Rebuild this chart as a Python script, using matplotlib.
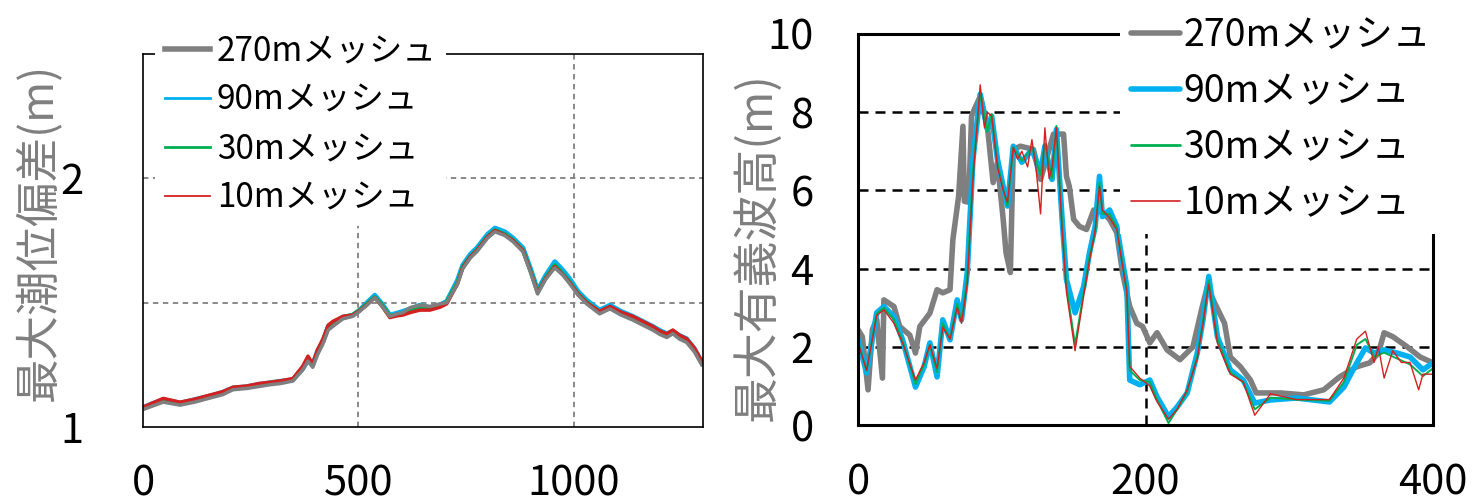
import matplotlib
matplotlib.use("Agg")
import matplotlib.pyplot as plt
from matplotlib.lines import Line2D

plt.rcParams['font.family'] = ['Noto Sans CJK JP', 'DejaVu Sans']

# ---------------- data ----------------
series_labels = ["270mメッシュ", "90mメッシュ", "30mメッシュ", "10mメッシュ"]
colors = ["#7f7f7f", "#00b0f0", "#00b050", "#d42020"]

# left panel: 最大潮位偏差
left_x = [0, 20, 47, 86, 120, 163, 185, 209, 241, 270,
          295, 320, 348, 371, 383, 394, 405, 418, 430, 441,
          464, 487, 503, 520, 538, 555, 573, 590, 603, 620,
          643, 666, 690, 705, 730, 742, 760, 775, 800, 817,
          840, 859, 882, 900, 916, 935, 956, 975, 991, 1010,
          1030, 1060, 1084, 1110, 1137, 1160, 1183, 1200, 1216, 1230,
          1245, 1262, 1280, 1297]
left_270 = [1.07, 1.083, 1.10, 1.088, 1.10, 1.12, 1.13, 1.15, 1.155, 1.163,
            1.17, 1.175, 1.185, 1.23, 1.265, 1.24, 1.29, 1.335, 1.39, 1.405,
            1.435, 1.445, 1.465, 1.49, 1.52, 1.485, 1.445, 1.455, 1.46, 1.48,
            1.49, 1.485, 1.495, 1.5, 1.575, 1.635, 1.68, 1.705, 1.76, 1.785,
            1.77, 1.745, 1.705, 1.62, 1.535, 1.595, 1.64, 1.61, 1.575, 1.53,
            1.495, 1.455, 1.475, 1.45, 1.43, 1.41, 1.39, 1.372, 1.36, 1.375,
            1.354, 1.34, 1.302, 1.25]
left_90 = [1.078, 1.093, 1.11, 1.096, 1.11, 1.128, 1.14, 1.157, 1.162, 1.172,
           1.178, 1.184, 1.19, 1.235, 1.27, 1.25, 1.305, 1.345, 1.405, 1.415,
           1.44, 1.45, 1.47, 1.50, 1.53, 1.495, 1.45, 1.458, 1.465, 1.475,
           1.49, 1.48, 1.492, 1.505, 1.59, 1.65, 1.695, 1.72, 1.775, 1.80,
           1.785, 1.76, 1.72, 1.635, 1.55, 1.61, 1.665, 1.63, 1.595, 1.545,
           1.51, 1.47, 1.49, 1.465, 1.445, 1.425, 1.405, 1.388, 1.375, 1.385,
           1.368, 1.355, 1.315, 1.262]
left_30 = [1.076, 1.09, 1.11, 1.096, 1.108, 1.128, 1.138, 1.157, 1.16, 1.17,
           1.177, 1.182, 1.19, 1.24, 1.277, 1.249, 1.30, 1.349, 1.40, 1.418,
           1.443, 1.45, 1.47, 1.495, 1.522, 1.49, 1.446, 1.452, 1.456, 1.468,
           1.478, 1.478, 1.488, 1.502, 1.58, 1.643, 1.685, 1.711, 1.765, 1.791,
           1.775, 1.751, 1.711, 1.625, 1.542, 1.60, 1.651, 1.615, 1.582, 1.535,
           1.502, 1.462, 1.482, 1.458, 1.438, 1.418, 1.398, 1.38, 1.369, 1.382,
           1.362, 1.349, 1.31, 1.257]
left_10 = [1.08, 1.095, 1.115, 1.10, 1.112, 1.132, 1.142, 1.16, 1.165, 1.175,
           1.18, 1.186, 1.195, 1.245, 1.285, 1.255, 1.31, 1.355, 1.41, 1.425,
           1.445, 1.45, 1.468, 1.492, 1.52, 1.485, 1.44, 1.447, 1.45, 1.46,
           1.47, 1.47, 1.482, 1.495, 1.575, 1.64, 1.685, 1.71, 1.765, 1.79,
           1.772, 1.75, 1.71, 1.625, 1.54, 1.598, 1.645, 1.612, 1.58, 1.535,
           1.50, 1.465, 1.485, 1.462, 1.445, 1.425, 1.405, 1.386, 1.375, 1.39,
           1.37, 1.355, 1.318, 1.265]

# right panel: 最大有義波高
right_x_270 = [0, 3, 7, 10, 13, 17, 18, 25, 29, 36,
               40, 43, 50, 55, 59, 64, 66, 70, 73, 74,
               77, 79, 81, 85, 90, 94, 97, 101, 103, 106,
               108, 113, 122, 127, 131, 136, 143, 145, 147, 150,
               154, 159, 164, 170, 175, 180, 184, 189, 194, 198,
               203, 208, 215, 224, 233, 239, 243, 248, 255, 259,
               266, 273, 277, 294, 310, 324, 335, 347, 356, 362,
               366, 372, 382, 391, 400]
right_270 = [2.44, 2.26, 0.9, 2.44, 2.7, 1.2, 3.2, 3.03, 2.52, 2.3,
             1.84, 2.52, 2.86, 3.46, 3.38, 3.46, 4.74, 5.85, 7.64, 5.72,
             5.7, 7.9, 8.08, 8.4, 7.64, 6.2, 6.72, 5.26, 4.4, 3.9,
             7.05, 7.13, 7.05, 6.28, 6.8, 7.44, 7.44, 6.36, 6.1, 5.26,
             5.08, 5.0, 5.5, 5.44, 5.26, 4.92, 3.9, 3.03, 2.6, 2.52,
             2.1, 2.36, 1.92, 1.67, 2.0, 2.95, 3.54, 3.13, 2.6, 1.74,
             1.49, 1.15, 0.82, 0.82, 0.77, 0.9, 1.23, 1.49, 1.59, 1.84,
             2.36, 2.26, 2.0, 1.74, 1.59]

right_x_fine = [0, 6, 13, 18, 25, 31, 40, 46, 50, 55,
                59, 64, 69, 72, 76, 80, 85, 90, 93, 97,
                101, 104, 108, 114, 121, 127, 130, 135, 138, 142,
                145, 151, 157, 161, 165, 168, 170, 175, 180, 183,
                187, 189, 196, 203, 208, 216, 222, 229, 236, 240,
                244, 250, 259, 268, 276, 287, 305, 328, 338, 347,
                353, 359, 366, 375, 384, 393, 400]
right_90 = [2.18, 1.33, 2.87, 3.03, 2.77, 2.18, 0.97, 1.49, 2.1, 1.23,
            2.69, 2.18, 3.2, 2.69, 3.9, 6.8, 8.46, 7.56, 7.9, 6.8,
            6.1, 5.6, 7.13, 6.72, 7.05, 6.46, 7.13, 6.28, 7.56, 5.26,
            3.72, 2.87, 3.54, 4.4, 5.08, 6.36, 5.33, 5.5, 5.08, 4.4,
            3.54, 1.15, 1.03, 1.15, 0.72, 0.21, 0.46, 0.82, 1.84, 2.69,
            3.8, 2.26, 1.41, 1.15, 0.56, 0.64, 0.69, 0.59, 0.97, 1.59,
            1.97, 1.84, 1.92, 1.84, 1.74, 1.41, 1.59]
right_30 = [2.15, 1.38, 2.85, 3.0, 2.7, 2.15, 1.05, 1.55, 2.05, 1.35,
            2.6, 2.2, 3.1, 2.65, 3.75, 6.5, 8.5, 7.5, 7.95, 6.7,
            6.05, 5.6, 7.1, 6.75, 7.1, 6.4, 7.2, 6.3, 7.65, 5.1,
            3.55, 2.05, 3.4, 4.3, 4.9, 6.2, 5.4, 5.4, 5.05, 4.35,
            3.45, 1.4, 1.15, 1.1, 0.65, 0.05, 0.4, 0.85, 1.75, 2.65,
            3.7, 2.2, 1.35, 1.1, 0.4, 0.7, 0.65, 0.62, 1.1, 2.05,
            2.2, 1.75, 1.85, 1.7, 1.55, 1.25, 1.45]

right_x_10 = [0, 6, 13, 18, 25, 31, 40, 46, 50, 55,
              59, 64, 69, 72, 76, 80, 85, 88, 90, 93,
              97, 101, 104, 108, 111, 114, 118, 121, 124, 127,
              130, 133, 135, 138, 142, 145, 151, 157, 161, 165,
              168, 170, 175, 180, 183, 187, 189, 196, 203, 208,
              216, 222, 229, 236, 240, 244, 250, 259, 268, 276,
              287, 305, 328, 338, 347, 353, 359, 362, 366, 372,
              378, 384, 390, 393, 400]
right_10 = [2.1, 1.4, 2.8, 2.95, 2.6, 2.1, 1.15, 1.6, 2.05, 1.45,
            2.5, 2.2, 3.0, 2.6, 3.6, 6.3, 8.7, 7.6, 8.0, 7.9,
            6.6, 6.0, 5.7, 7.1, 6.8, 7.0, 6.6, 7.3, 6.5, 5.4,
            7.6, 6.3, 6.6, 7.6, 5.0, 3.4, 1.9, 3.3, 4.2, 5.0,
            6.1, 5.5, 5.3, 5.0, 4.3, 3.4, 1.5, 1.2, 1.0, 0.6,
            0.15, 0.4, 0.9, 1.7, 2.6, 3.6, 2.1, 1.3, 1.1, 0.25,
            0.8, 0.65, 0.65, 1.2, 2.2, 2.4, 1.6, 2.0, 1.2, 1.9,
            1.6, 1.6, 0.9, 1.3, 1.3]

left_xticks = [0, 500, 1000]
left_yticks = [1, 2]
right_xticks = [0, 200, 400]
right_yticks = [0, 2, 4, 6, 8, 10]

# ---------------- figure ----------------
W, H = 1481, 504
fig = plt.figure(figsize=(W / 100, H / 100), dpi=100)

def rect(l, t, r, b):
    return [l / W, 1 - b / H, (r - l) / W, (b - t) / H]

# ---- left ----
axL = fig.add_axes(rect(143, 54, 703, 427))
lw_left = [2.5, 3.5, 3.0, 2.5]
order = [1, 2, 3, 0]
data_left = [left_270, left_90, left_30, left_10]
for i in order:
    axL.plot(left_x, data_left[i], color=colors[i], lw=lw_left[i],
             label=series_labels[i], solid_joinstyle='round')
axL.set_xlim(0, 1300)
axL.set_ylim(1, 2.5)
axL.set_xticks(left_xticks)
axL.set_yticks(left_yticks)
for v in (1.5, 2.0):
    axL.axhline(v, color="#808080", lw=1.3, ls=(0, (3, 2.5)), zorder=0.5)
for v in (500, 1000):
    axL.axvline(v, color="#808080", lw=1.3, ls=(0, (3, 2.5)), zorder=0.5)
for s in axL.spines.values():
    s.set_linewidth(1.2)
axL.tick_params(length=0, labelsize=30, colors="black")
axL.tick_params(axis='y', pad=43)
axL.tick_params(axis='x', pad=26)

leg_lw_left = [4, 2, 2, 1.3]
proxL = [Line2D([], [], color=colors[i], lw=leg_lw_left[i]) for i in range(4)]
legL = axL.legend(proxL, series_labels, loc='upper left',
                  bbox_to_anchor=(155 / W, 1 - 24 / H), bbox_transform=fig.transFigure,
                  fontsize=24, frameon=True, facecolor='white', edgecolor='none',
                  framealpha=1, fancybox=False, borderaxespad=0, borderpad=0.3,
                  handlelength=1.35, handletextpad=0.2, labelspacing=0.42)
legL.set_zorder(10)

fig.text(39 / W, 1 - 232 / H, "最大潮位偏差(m)", rotation=90, ha='center', va='center',
         fontsize=32, color="#7f7f7f")

# ---- right ----
axR = fig.add_axes(rect(858, 34, 1433, 425))
lw_right = [4.0, 4.0, 1.4, 1.0]
data_right = [(right_x_270, right_270), (right_x_fine, right_90),
              (right_x_fine, right_30), (right_x_10, right_10)]
for i in range(4):
    xs, ys = data_right[i]
    axR.plot(xs, ys, color=colors[i], lw=lw_right[i], label=series_labels[i],
             solid_joinstyle='round')
axR.set_xlim(0, 400)
axR.set_ylim(0, 10)
axR.set_xticks(right_xticks)
axR.set_yticks(right_yticks)
for v in (2, 4, 6, 8):
    axR.axhline(v, color="black", lw=1.8, ls=(0, (4, 2.8)), zorder=0.5)
axR.axvline(200, color="black", lw=1.8, ls=(0, (4, 2.8)), zorder=0.5)
for s in axR.spines.values():
    s.set_linewidth(2.2)
axR.tick_params(length=0, labelsize=30, colors="black")
axR.tick_params(axis='y', pad=32)
axR.tick_params(axis='x', pad=27)

leg_lw_right = [4, 4, 2, 1.2]
proxR = [Line2D([], [], color=colors[i], lw=leg_lw_right[i], solid_capstyle='round')
         for i in range(4)]
legR = axR.legend(proxR, series_labels, loc='upper left',
                  bbox_to_anchor=(1120 / W, 1 - 5 / H), bbox_transform=fig.transFigure,
                  fontsize=27, frameon=True, facecolor='white', edgecolor='none',
                  framealpha=1, fancybox=False, borderaxespad=0, borderpad=0.3,
                  handlelength=1.3, handletextpad=0.1, labelspacing=0.45)
legR.set_zorder(10)

fig.text(757 / W, 1 - 247 / H, "最大有義波高(m)", rotation=90, ha='center', va='center',
         fontsize=33, color="#7f7f7f")

fig.savefig("out.png", dpi=100, facecolor='white')
